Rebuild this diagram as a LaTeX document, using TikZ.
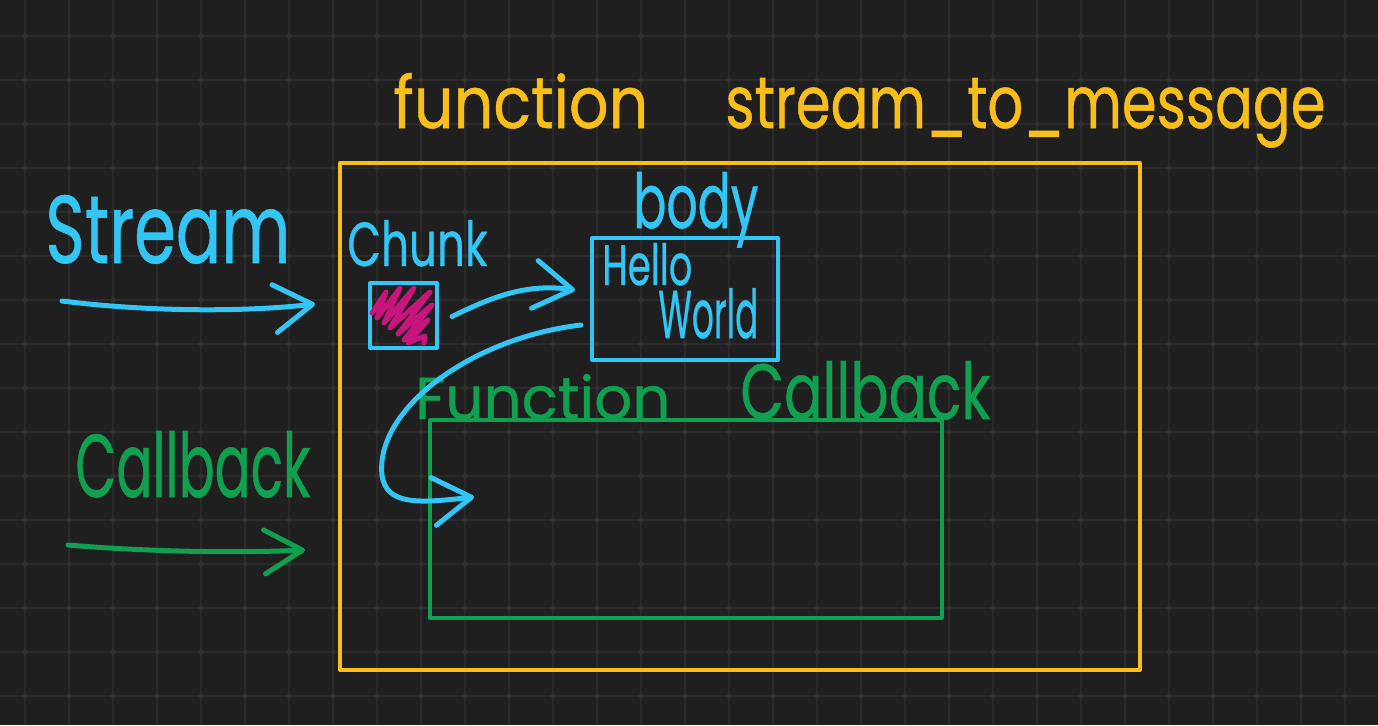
\documentclass[tikz,border=0pt]{standalone}
\usepackage{fontspec}
\setmainfont{Poppins}
\newfontfamily\hwthick[FakeBold=0.7]{Poppins}
\usetikzlibrary{arrows.meta,fit,calc}
\definecolor{bgc}{HTML}{1F1F1F}
\definecolor{gridc}{HTML}{2A2A2A}
\definecolor{dotc}{HTML}{313131}
\definecolor{ora}{HTML}{F9BE1A}
\definecolor{blu}{HTML}{33C5F4}
\definecolor{grn}{HTML}{10A04F}
\definecolor{mag}{HTML}{C8147D}
\newlength\px \setlength\px{0.02cm}
\begin{document}
\begin{tikzpicture}[x=0.02cm,y=-0.02cm,
  gridline/.style={draw=gridc,line width=0.026cm},
  lbl/.style={inner sep=0pt,anchor=base west,font=\hwthick},
  boxbase/.style={inner sep=0pt,line width=0.08cm,line join=round,line cap=round},
  obox/.style={boxbase,draw=ora},
  bbox/.style={boxbase,draw=blu},
  gbox/.style={boxbase,draw=grn},
  barrow/.style={draw=blu,line width=0.1cm,line cap=round,line join=round,
     -{Straight Barb[length=0.76cm,width=0.96cm,line cap=round,line join=round]}},
  garrow/.style={draw=grn,line width=0.1cm,line cap=round,line join=round,
     -{Straight Barb[length=0.76cm,width=0.88cm,line cap=round,line join=round]}}]
\fill[bgc] (0,0) rectangle (1378,725);
\useasboundingbox (0,0) rectangle (1378,725);
% grid
\foreach \x in {25,69,...,1377} \draw[gridline] (\x,0) -- (\x,725);
\foreach \y in {36,80,...,725} \draw[gridline] (0,\y) -- (1378,\y);
\foreach \x in {25,69,...,1377} \foreach \y in {36,80,...,725} \fill[dotc] (\x,\y) circle[radius=0.05cm];
% title
\node[lbl,text=ora] (title1) at (393,128) {\resizebox{255\px}{55\px}{function}};
\node[lbl,text=ora] (title2) at (725,128) {\resizebox{600\px}{50\px}{stream\_to\_message}};
% boxes
\coordinate (o1) at (340,163); \coordinate (o2) at (1140,670);
\node[obox,fit=(o1)(o2)] (outer) {};
\coordinate (c1) at (370,283); \coordinate (c2) at (437,348);
\node[bbox,fit=(c1)(c2)] (chunk) {};
\coordinate (b1) at (592,238); \coordinate (b2) at (778,360);
\node[bbox,fit=(b1)(b2)] (body) {};
\coordinate (g1) at (430,420); \coordinate (g2) at (942,618);
\node[gbox,fit=(g1)(g2)] (cbk) {};
% scribble
\draw[mag,line width=0.1cm,line join=round,line cap=round]
  (372,313) -- (386,292) -- (377,318) -- (400,288) -- (384,323) -- (414,288)
  -- (390,328) -- (430,292) -- (398,334) -- (432,305) -- (404,340) -- (428,320)
  -- (408,343) -- (425,336) -- (424,343);
% labels
\node[lbl,text=blu] (streamlbl) at (45,263) {\resizebox{245\px}{68\px}{Stream}};
\node[lbl,text=grn] (callbacklbl) at (75,497) {\resizebox{235\px}{66\px}{Callback}};
\node[lbl,text=blu] (chunklbl) at (347,266) {\resizebox{140\px}{46\px}{Chunk}};
\node[lbl,text=blu] (bodylbl) at (633,228) {\resizebox{125\px}{56\px}{body}};
\node[lbl,text=blu] (hello) at (602,285) {\resizebox{90\px}{42\px}{Hello}};
\node[lbl,text=blu] (world) at (658,338) {\resizebox{100\px}{50\px}{World}};
\node[lbl,text=grn] (fcb) at (415,419) {\resizebox{255\px}{45\px}{Function}\hspace{70\px}\resizebox{250\px}{58\px}{Callback}};
% arrows
\coordinate (sa) at (62,301); \coordinate (sb) at (315,304);
\draw[barrow] (sa) .. controls (150,312) and (245,312) .. (sb);
\coordinate (ca) at (68,545); \coordinate (cb) at (305,550);
\draw[garrow] (ca) .. controls (150,552) and (240,553) .. (cb);
\draw[barrow] ($(chunk.east)+(13,1)$) .. controls (490,298) and (525,283) .. ($(body.west)+(-15,-9)$);
\draw[barrow] ($(body.west)+(-9,26)$) .. controls (470,338) and (375,410) .. (382,475)
  .. controls (386,506) and (420,503) .. ($(cbk.west)+(46,-22)$);
\end{tikzpicture}
\end{document}
